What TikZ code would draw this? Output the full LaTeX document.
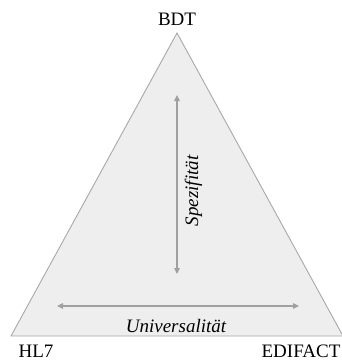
\documentclass[tikz,border=0pt]{standalone}
\usepackage{fontspec}
\setmainfont{Liberation Serif}
\usetikzlibrary{arrows.meta}
\definecolor{areafill}{HTML}{EEEEEE}
\definecolor{edgegray}{HTML}{A8A8A8}
\definecolor{arrowgray}{HTML}{A0A0A0}
\begin{document}
\begin{tikzpicture}[x=1pt,y=-1pt,
  label/.style={inner sep=0pt,anchor=base,font=\fontsize{19}{22}\selectfont},
  axislabel/.style={label,font=\fontsize{19}{22}\selectfont\itshape},
  axis/.style={draw=arrowgray,line width=1.1pt,
    {Triangle[length=6pt,width=5.5pt]}-{Triangle[length=6pt,width=5.5pt]}}]
  \useasboundingbox (0,0) rectangle (341,361);
  % corners of the triangle
  \coordinate (top) at (177,33);
  \coordinate (left) at (11,336);
  \coordinate (right) at (343,336);
  \filldraw[fill=areafill,draw=edgegray,line width=0.9pt] (top) -- (right) -- (left) -- cycle;
  % corner labels
  \node[label] (bdt) at (177,26) {BDT};
  \node[label] (hl7) at (36,357) {HL7};
  \node[label] (edifact) at (301,357) {EDIFACT};
  % axes inside the triangle
  \coordinate (vtop) at (177,95);
  \coordinate (vbot) at (177,274);
  \coordinate (hleft) at (57,306);
  \coordinate (hright) at (299,306);
  \draw[axis] (vtop) -- (vbot);
  \draw[axis] (hleft) -- (hright);
  \node[axislabel] (univ) at (176,332) {Universalität};
  \node[axislabel,rotate=90] (spez) at (198,191) {Spezifität};
\end{tikzpicture}
\end{document}
